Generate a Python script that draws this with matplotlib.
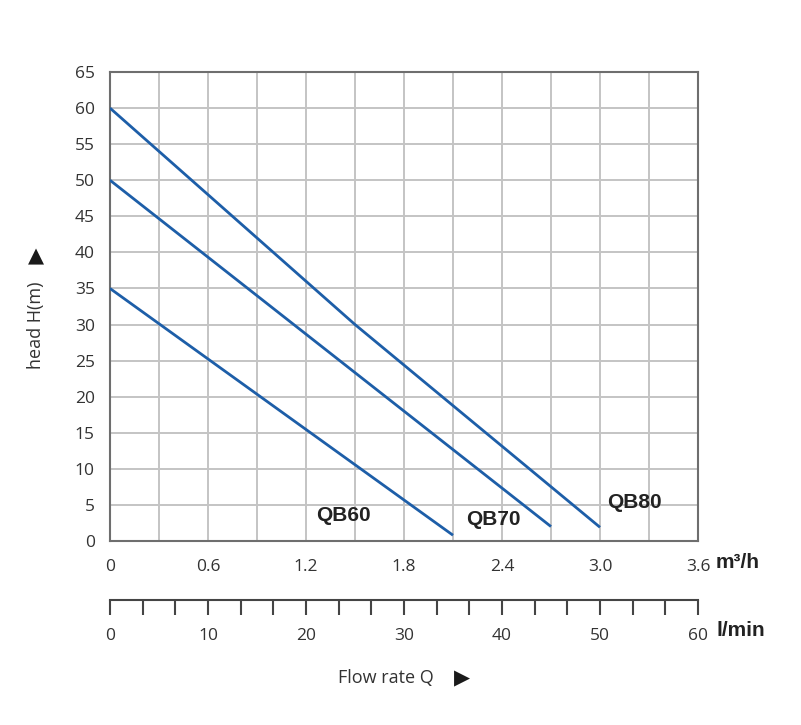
import numpy as np
import matplotlib
matplotlib.use("Agg")
import matplotlib.pyplot as plt
from matplotlib.ticker import MultipleLocator

plt.rcParams['font.family'] = ['Open Sans', 'DejaVu Sans']

# pump curves: flow (m3/h) -> head (m)
qb60_q = [0.0, 1.05, 2.1]
qb60_h = [35.0, 17.9, 0.8]
qb70_q = [0.0, 1.35, 2.7]
qb70_h = [50.0, 26.0, 2.0]
qb80_q = [0.0, 1.5, 3.0]
qb80_h = [60.0, 30.0, 1.9]

models = ["QB60", "QB70", "QB80"]
label_pos = [(1.43, 3.5), (2.35, 3.0), (3.21, 5.3)]

x_ticks = [0, 0.6, 1.2, 1.8, 2.4, 3.0, 3.6]
x_labels = ["0", "0.6", "1.2", "1.8", "2.4", "3.0", "3.6"]
y_ticks = list(range(0, 70, 5))
lmin_ticks = [0, 10, 20, 30, 40, 50, 60]

W, H = 801, 725
fig = plt.figure(figsize=(W / 100, H / 100), dpi=100)

def fx(px):
    return px / W

def fy(py):
    return 1 - py / H

left, right, top, bottom = 110, 698, 72, 541
ax = fig.add_axes([fx(left), fy(bottom), fx(right - left), fy(top) - fy(bottom)])

line_col = "#1d5ea8"
ax.plot(qb60_q, qb60_h, color=line_col, lw=2.0, solid_capstyle="butt", zorder=3)
ax.plot(qb70_q, qb70_h, color=line_col, lw=2.0, solid_capstyle="butt", zorder=3)
ax.plot(qb80_q, qb80_h, color=line_col, lw=2.0, solid_capstyle="butt", zorder=3)

for name, (tx, ty) in zip(models, label_pos):
    ax.text(tx, ty, name, ha="center", va="center", fontsize=15,
            fontweight="bold", color="#222222", zorder=4,
            family="Liberation Sans")

ax.set_xlim(0, 3.6)
ax.set_ylim(0, 65)
ax.set_xticks(x_ticks)
ax.set_xticklabels(x_labels)
ax.xaxis.set_minor_locator(MultipleLocator(0.3))
ax.set_yticks(y_ticks)
ax.grid(True, which="both", color="#c4c4c4", lw=1.4, zorder=1)
ax.set_axisbelow(True)
ax.tick_params(axis="both", which="both", length=0, labelsize=12.5,
               labelcolor="#333333")
ax.tick_params(axis="x", pad=13)
ax.tick_params(axis="y", pad=11)
for sp in ax.spines.values():
    sp.set_color("#6e6e6e")
    sp.set_linewidth(1.5)

# second scale in l/min
ax2 = fig.add_axes([fx(left), fy(600), fx(right - left), 0.001])
ax2.set_xlim(0, 60)
ax2.set_ylim(0, 1)
ax2.set_yticks([])
ax2.set_xticks(lmin_ticks)
ax2.xaxis.set_minor_locator(MultipleLocator(10 / 3))
for s in ["top", "left", "right"]:
    ax2.spines[s].set_visible(False)
ax2.spines["bottom"].set_color("#444444")
ax2.spines["bottom"].set_linewidth(1.5)
ax2.patch.set_visible(False)
ax2.tick_params(axis="x", which="both", direction="out", length=11,
                width=1.5, color="#444444", labelsize=12.5,
                labelcolor="#333333", pad=9)

fig.text(fx(716), fy(563), "m³/h", ha="left", va="center", fontsize=15,
         fontweight="bold", color="#222222", family="Liberation Sans")
fig.text(fx(716), fy(630), "l/min", ha="left", va="center", fontsize=15,
         fontweight="bold", color="#222222", family="Liberation Sans")

fig.text(fx(386), fy(678), "Flow rate Q", ha="center", va="center",
         fontsize=13, color="#333333")
fig.text(fx(462), fy(678), "▶", ha="center", va="center", fontsize=15,
         color="#1a1a1a", family="DejaVu Sans")
fig.text(fx(36), fy(325), "head H(m)", ha="center", va="center",
         rotation=90, fontsize=13, color="#333333")
fig.text(fx(36), fy(256), "▲", ha="center", va="center", fontsize=15,
         color="#1a1a1a", family="DejaVu Sans")

fig.savefig("out.png", dpi=100)
